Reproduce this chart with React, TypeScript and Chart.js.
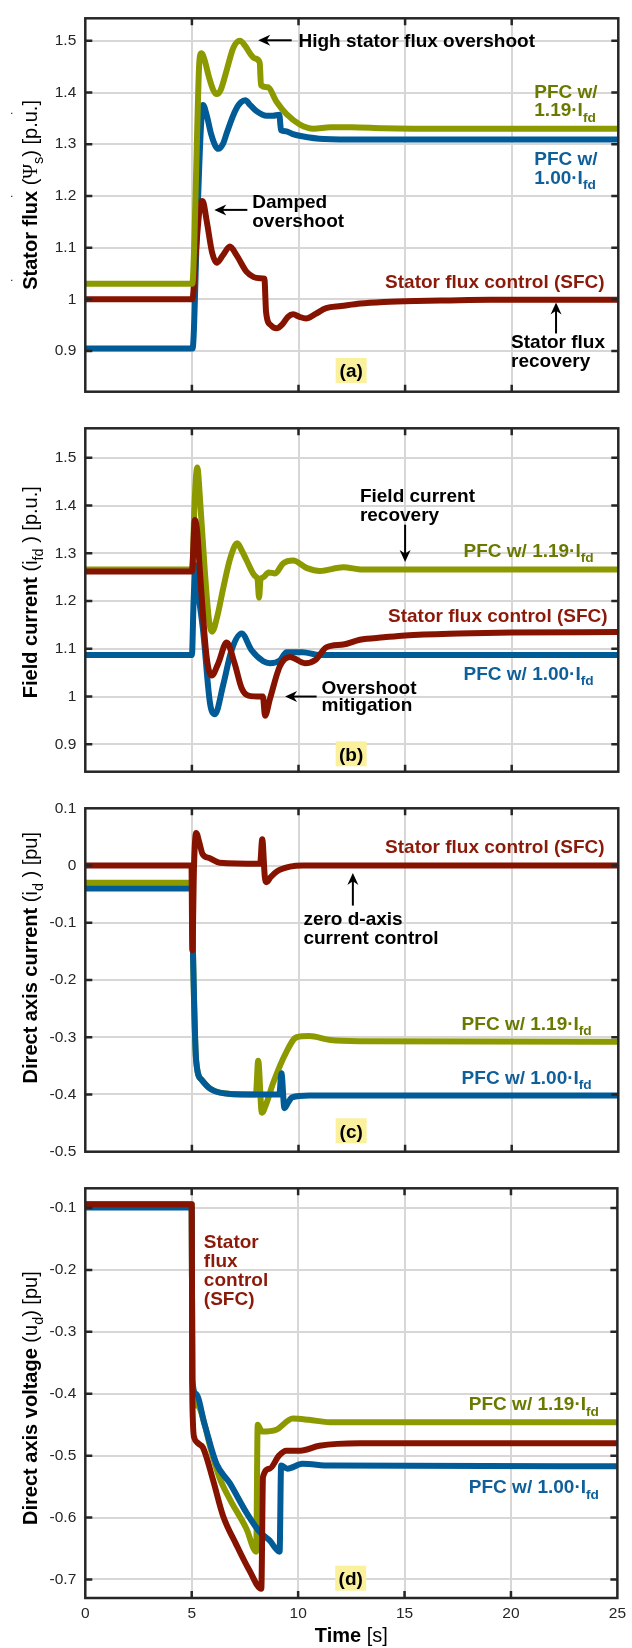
import React, { useEffect, useRef } from "react";
import { Chart, registerables } from "chart.js";
Chart.register(...registerables);

// ---------------- data ----------------
const xTicks = [0, 5, 10, 15, 20, 25];
const yTicksFlux = [0.9, 1, 1.1, 1.2, 1.3, 1.4, 1.5];
const yTicksField = [0.9, 1, 1.1, 1.2, 1.3, 1.4, 1.5];
const yTicksId = [-0.5, -0.4, -0.3, -0.2, -0.1, 0, 0.1];
const yTicksUd = [-0.7, -0.6, -0.5, -0.4, -0.3, -0.2, -0.1];

// (a) stator flux
const fluxT_sfc = [0, 5.02, 5.2, 5.4, 5.5, 5.7, 5.95, 6.16, 6.45, 6.78, 7.1, 7.57, 7.9, 8.19, 8.4, 8.48, 8.7, 8.97, 9.25, 9.5, 9.75, 10.05, 10.35, 10.8, 11.3, 12, 12.9, 14, 15.5, 17, 19, 25];
const fluxV_sfc = [1.0, 1.0, 1.1, 1.185, 1.19, 1.15, 1.09, 1.071, 1.085, 1.102, 1.085, 1.053, 1.043, 1.041, 1.04, 0.975, 0.95, 0.944, 0.952, 0.966, 0.971, 0.966, 0.963, 0.972, 0.983, 0.987, 0.992, 0.995, 0.997, 0.998, 0.999, 0.999];
const fluxT_119 = [0, 5.02, 5.12, 5.25, 5.35, 5.45, 5.6, 5.8, 6.0, 6.16, 6.35, 6.63, 6.94, 7.25, 7.5, 7.75, 7.95, 8.18, 8.24, 8.56, 8.97, 9.44, 10.07, 10.7, 11.5, 12.5, 14, 17, 25];
const fluxV_119 = [1.03, 1.03, 1.12, 1.33, 1.46, 1.476, 1.462, 1.43, 1.405, 1.397, 1.405, 1.443, 1.486, 1.5, 1.49, 1.474, 1.466, 1.458, 1.414, 1.41, 1.382, 1.358, 1.338, 1.33, 1.333, 1.333, 1.331, 1.33, 1.33];
const fluxT_100 = [0, 5.03, 5.25, 5.42, 5.52, 5.7, 5.9, 6.1, 6.24, 6.45, 6.63, 6.9, 7.1, 7.3, 7.5, 7.75, 8.03, 8.5, 8.8, 9.1, 9.18, 9.4, 9.7, 10.1, 11.2, 13, 25];
const fluxV_100 = [0.905, 0.905, 1.15, 1.33, 1.376, 1.355, 1.32, 1.297, 1.291, 1.3, 1.321, 1.352, 1.37, 1.381, 1.385, 1.375, 1.364, 1.355, 1.355, 1.357, 1.327, 1.325, 1.32, 1.316, 1.31, 1.309, 1.309];

// (b) field current
const fieldT_sfc = [0, 5.0, 5.14, 5.25, 5.37, 5.69, 5.93, 6.24, 6.63, 7.0, 7.33, 7.65, 8.27, 8.33, 8.43, 8.66, 9.13, 9.6, 10.3, 10.8, 11.3, 12.1, 12.88, 14, 15, 17.5, 20, 25];
const fieldV_sfc = [1.262, 1.262, 1.37, 1.345, 1.266, 1.083, 1.044, 1.07, 1.113, 1.07, 1.018, 1.002, 1.0, 1.0, 0.96, 0.995, 1.064, 1.083, 1.07, 1.077, 1.103, 1.109, 1.119, 1.124, 1.128, 1.132, 1.134, 1.135];
const fieldT_119 = [0, 5.02, 5.12, 5.25, 5.4, 5.6, 5.8, 5.95, 6.2, 6.47, 6.8, 7.13, 7.35, 7.57, 7.95, 8.08, 8.15, 8.22, 8.35, 8.6, 8.9, 9.28, 9.75, 10.4, 11.0, 12.1, 13, 25];
const fieldV_119 = [1.266, 1.266, 1.4, 1.48, 1.4, 1.266, 1.16, 1.136, 1.17, 1.227, 1.29, 1.321, 1.305, 1.285, 1.253, 1.245, 1.207, 1.245, 1.25, 1.26, 1.258, 1.279, 1.285, 1.269, 1.263, 1.271, 1.266, 1.266];
const fieldT_100 = [0, 5.0, 5.08, 5.17, 5.35, 5.53, 5.85, 6.08, 6.47, 6.86, 7.33, 7.8, 8.35, 8.66, 9.13, 9.44, 10.2, 11, 25];
const fieldV_100 = [1.087, 1.087, 1.2, 1.275, 1.2, 1.136, 0.986, 0.963, 1.025, 1.097, 1.132, 1.097, 1.074, 1.07, 1.076, 1.093, 1.093, 1.087, 1.087];

// (c) direct axis current
const idT_sfc = [0, 4.98, 5.02, 5.1, 5.2, 5.35, 5.5, 5.84, 6.3, 8.2, 8.3, 8.42, 8.5, 8.7, 9.0, 9.6, 10.2, 25];
const idV_sfc = [0, 0, -0.148, 0.0, 0.057, 0.04, 0.02, 0.0128, 0.005, 0.003, 0.046, -0.02, -0.029, -0.02, -0.01, -0.002, 0, 0];
const idT_119 = [0, 5.0, 5.05, 5.2, 5.45, 5.9, 6.8, 8.0, 8.11, 8.28, 8.5, 8.81, 9.44, 9.91, 10.5, 11.5, 13, 25];
const idV_119 = [-0.03, -0.03, -0.15, -0.341, -0.374, -0.391, -0.399, -0.4, -0.341, -0.432, -0.415, -0.38, -0.325, -0.3, -0.298, -0.305, -0.307, -0.308];
const idT_100 = [0, 5.0, 5.05, 5.2, 5.45, 5.9, 6.8, 9.1, 9.2, 9.34, 9.5, 9.7, 10.5, 25];
const idV_100 = [-0.04, -0.04, -0.15, -0.341, -0.374, -0.391, -0.399, -0.4, -0.363, -0.424, -0.415, -0.405, -0.402, -0.402];

// (d) direct axis voltage
const udT_sfc = [0, 5.0, 5.03, 5.12, 5.3, 5.53, 6.0, 6.47, 7.1, 7.72, 8.27, 8.35, 8.66, 9.1, 9.44, 10.1, 11, 12.9, 25];
const udV_sfc = [-0.094, -0.094, -0.41, -0.471, -0.48, -0.487, -0.539, -0.597, -0.644, -0.686, -0.715, -0.534, -0.521, -0.5, -0.492, -0.492, -0.484, -0.48, -0.48];
const udT_119 = [0, 5.0, 5.03, 5.3, 5.61, 5.9, 6.3, 6.8, 7.57, 8.03, 8.1, 8.3, 8.97, 9.75, 10.5, 11.5, 25];
const udV_119 = [-0.094, -0.094, -0.39, -0.42, -0.45, -0.49, -0.535, -0.571, -0.618, -0.655, -0.45, -0.461, -0.458, -0.44, -0.442, -0.446, -0.446];
const udT_100 = [0, 5.0, 5.03, 5.2, 5.61, 6.16, 6.78, 7.57, 8.19, 8.66, 9.13, 9.2, 9.5, 10.2, 11.5, 25];
const udV_100 = [-0.099, -0.099, -0.377, -0.4, -0.45, -0.513, -0.544, -0.592, -0.623, -0.637, -0.655, -0.516, -0.521, -0.513, -0.516, -0.517];

// ---------------- styles ----------------
const FONT = '"Liberation Sans", Arial, Helvetica, sans-serif';
const SERIF = '"Liberation Serif", "DejaVu Serif", serif';
const AXIS = "#262626";
const GRID = "#d9d6d6";
const L_GREEN = "#8c9a00";
const L_BLUE = "#005b96";
const L_RED = "#861300";
const T_GREEN = "#6a7a00";
const T_BLUE = "#0f5f9a";
const T_RED = "#8b1a0a";
const BLACK = "#000000";
const TAG_BG = "#fbf09c";

type Seg = { t: string; b?: boolean; sub?: boolean; serif?: boolean };
type Note = { segs: Seg[]; t: number; v: number; color: string };
type Arrow = { from: [number, number]; to: [number, number] };
type Series = { t: number[]; v: number[]; color: string; order: number };
type PanelCfg = {
  top: number; height: number; padTop: number; padBottom: number; xAxisH: number; showX: boolean;
  yMin: number; yMax: number; yTicks: number[]; series: Series[];
  title: Seg[]; titleV: number; notes: Note[]; arrows: Arrow[];
  tag: string; tagT: number; tagV: number; dots?: number[]; xTitle?: Seg[];
};

const bold = (t: string): Seg[] => [{ t, b: true }];
const pfc = (k: string): Seg[] => [{ t: `PFC w/ ${k}·I`, b: true }, { t: "fd", b: true, sub: true }];
const pfcShort = (k: string): Seg[] => [{ t: `${k}·I`, b: true }, { t: "fd", b: true, sub: true }];

const panels: PanelCfg[] = [
  {
    top: 0, height: 410, padTop: 5, padBottom: 10, xAxisH: 0, showX: false,
    yMin: 0.8214, yMax: 1.5435, yTicks: yTicksFlux,
    series: [
      { t: fluxT_119, v: fluxV_119, color: L_GREEN, order: 0 },
      { t: fluxT_sfc, v: fluxV_sfc, color: L_RED, order: 1 },
      { t: fluxT_100, v: fluxV_100, color: L_BLUE, order: 2 },
    ],
    title: [{ t: "Stator flux ", b: true }, { t: "(" }, { t: "Ψ", serif: true }, { t: "s", sub: true }, { t: ") [p.u.]" }],
    titleV: 1.202,
    notes: [
      { segs: bold("High stator flux overshoot"), t: 10.0, v: 1.501, color: BLACK },
      { segs: bold("PFC w/"), t: 21.06, v: 1.403, color: T_GREEN },
      { segs: pfcShort("1.19"), t: 21.06, v: 1.367, color: T_GREEN },
      { segs: bold("PFC w/"), t: 21.06, v: 1.272, color: T_BLUE },
      { segs: pfcShort("1.00"), t: 21.06, v: 1.236, color: T_BLUE },
      { segs: bold("Damped"), t: 7.83, v: 1.189, color: BLACK },
      { segs: bold("overshoot"), t: 7.83, v: 1.154, color: BLACK },
      { segs: bold("Stator flux control (SFC)"), t: 14.06, v: 1.035, color: T_RED },
      { segs: bold("Stator flux"), t: 19.97, v: 0.919, color: BLACK },
      { segs: bold("recovery"), t: 19.97, v: 0.882, color: BLACK },
    ],
    arrows: [
      { from: [9.68, 1.501], to: [8.11, 1.501] },
      { from: [7.6, 1.173], to: [6.05, 1.173] },
      { from: [22.08, 0.934], to: [22.08, 0.994] },
    ],
    tag: "(a)", tagT: 12.47, tagV: 0.8625,
    dots: [1.3607, 1.2, 1.0377],
  },
  {
    top: 410, height: 380, padTop: 5, padBottom: 6.7, xAxisH: 0, showX: false,
    yMin: 0.8426, yMax: 1.5619, yTicks: yTicksField,
    series: [
      { t: fieldT_sfc, v: fieldV_sfc, color: L_RED, order: 0 },
      { t: fieldT_100, v: fieldV_100, color: L_BLUE, order: 1 },
      { t: fieldT_119, v: fieldV_119, color: L_GREEN, order: 2 },
    ],
    title: [{ t: "Field current ", b: true }, { t: "(i" }, { t: "fd", sub: true }, { t: " ) [p.u.]" }],
    titleV: 1.2186,
    notes: [
      { segs: bold("Field current"), t: 12.88, v: 1.421, color: BLACK },
      { segs: bold("recovery"), t: 12.88, v: 1.383, color: BLACK },
      { segs: pfc("1.19"), t: 17.74, v: 1.307, color: T_GREEN },
      { segs: bold("Stator flux control (SFC)"), t: 14.2, v: 1.171, color: T_RED },
      { segs: pfc("1.00"), t: 17.74, v: 1.049, color: T_BLUE },
      { segs: bold("Overshoot"), t: 11.08, v: 1.02, color: BLACK },
      { segs: bold("mitigation"), t: 11.08, v: 0.984, color: BLACK },
    ],
    arrows: [
      { from: [15.0, 1.36], to: [15.0, 1.282] },
      { from: [10.85, 1.0], to: [9.37, 1.0] },
    ],
    tag: "(b)", tagT: 12.47, tagV: 0.88,
  },
  {
    top: 790, height: 380, padTop: 10, padBottom: 8, xAxisH: 0, showX: false,
    yMin: -0.5, yMax: 0.1, yTicks: yTicksId,
    series: [
      { t: idT_sfc, v: idV_sfc, color: L_RED, order: 0 },
      { t: idT_100, v: idV_100, color: L_BLUE, order: 1 },
      { t: idT_119, v: idV_119, color: L_GREEN, order: 2 },
    ],
    title: [{ t: "Direct axis current ", b: true }, { t: "(i" }, { t: "d", sub: true }, { t: " ) [pu]" }],
    titleV: -0.161,
    notes: [
      { segs: bold("Stator flux control (SFC)"), t: 14.06, v: 0.0337, color: T_RED },
      { segs: bold("zero d-axis"), t: 10.23, v: -0.092, color: BLACK },
      { segs: bold("current control"), t: 10.23, v: -0.126, color: BLACK },
      { segs: pfc("1.19"), t: 17.65, v: -0.275, color: T_GREEN },
      { segs: pfc("1.00"), t: 17.65, v: -0.369, color: T_BLUE },
    ],
    arrows: [{ from: [12.55, -0.07], to: [12.55, -0.013] }],
    tag: "(c)", tagT: 12.47, tagV: -0.4635,
  },
  {
    top: 1170, height: 478, padTop: 7, padBottom: 0, xAxisH: 50, showX: true,
    yMin: -0.7299, yMax: -0.0681, yTicks: yTicksUd,
    series: [
      { t: udT_sfc, v: udV_sfc, color: L_RED, order: 0 },
      { t: udT_100, v: udV_100, color: L_BLUE, order: 1 },
      { t: udT_119, v: udV_119, color: L_GREEN, order: 2 },
    ],
    title: [{ t: "Direct axis voltage ", b: true }, { t: "(u" }, { t: "d", sub: true }, { t: ") [pu]" }],
    titleV: -0.407,
    notes: [
      { segs: bold("Stator"), t: 5.57, v: -0.154, color: T_RED },
      { segs: bold("flux"), t: 5.57, v: -0.184, color: T_RED },
      { segs: bold("control"), t: 5.57, v: -0.215, color: T_RED },
      { segs: bold("(SFC)"), t: 5.57, v: -0.246, color: T_RED },
      { segs: pfc("1.19"), t: 18.02, v: -0.416, color: T_GREEN },
      { segs: pfc("1.00"), t: 18.02, v: -0.55, color: T_BLUE },
    ],
    arrows: [],
    tag: "(d)", tagT: 12.47, tagV: -0.6978,
    xTitle: [{ t: "Time", b: true }, { t: " [s]" }],
  },
];

// ---------------- drawing helpers ----------------
function segFont(s: Seg, size: number) {
  const sz = s.sub ? size * 0.72 : size;
  return `${s.b ? "bold " : ""}${sz}px ${s.serif ? SERIF : FONT}`;
}
function richWidth(ctx: CanvasRenderingContext2D, segs: Seg[], size: number) {
  let w = 0;
  for (const s of segs) { ctx.font = segFont(s, size); w += ctx.measureText(s.t).width; }
  return w;
}
function drawRich(ctx: CanvasRenderingContext2D, segs: Seg[], x: number, cy: number, size: number, color: string, align: "left" | "center") {
  const base = cy + 0.358 * size;
  let cx = align === "center" ? x - richWidth(ctx, segs, size) / 2 : x;
  ctx.fillStyle = color;
  ctx.textAlign = "left";
  ctx.textBaseline = "alphabetic";
  for (const s of segs) {
    ctx.font = segFont(s, size);
    ctx.fillText(s.t, cx, base + (s.sub ? size * 0.27 : 0));
    cx += ctx.measureText(s.t).width;
  }
}
function drawArrow(ctx: CanvasRenderingContext2D, x1: number, y1: number, x2: number, y2: number) {
  const dx = x2 - x1, dy = y2 - y1;
  const len = Math.hypot(dx, dy) || 1;
  const ux = dx / len, uy = dy / len;
  const nx = -uy, ny = ux;
  const L = 12, W = 5.5;
  ctx.strokeStyle = BLACK;
  ctx.lineWidth = 2;
  ctx.beginPath();
  ctx.moveTo(x1, y1);
  ctx.lineTo(x2 - ux * L * 0.6, y2 - uy * L * 0.6);
  ctx.stroke();
  ctx.fillStyle = BLACK;
  ctx.beginPath();
  ctx.moveTo(x2, y2);
  ctx.lineTo(x2 - ux * L + nx * W, y2 - uy * L + ny * W);
  ctx.lineTo(x2 - ux * L * 0.7, y2 - uy * L * 0.7);
  ctx.lineTo(x2 - ux * L - nx * W, y2 - uy * L - ny * W);
  ctx.closePath();
  ctx.fill();
}

const fmt = (v: number) => String(Math.round(v * 10) / 10);

function decor(p: PanelCfg) {
  return {
    id: "decor",
    afterDraw(chart: any) {
      const ctx: CanvasRenderingContext2D = chart.ctx;
      const { left, right, top, bottom } = chart.chartArea;
      const xs = chart.scales.x, ys = chart.scales.y;
      ctx.save();
      // box + inward ticks
      ctx.strokeStyle = AXIS;
      ctx.lineWidth = 2.5;
      ctx.strokeRect(left, top, right - left, bottom - top);
      ctx.beginPath();
      for (const v of p.yTicks) {
        const y = ys.getPixelForValue(v);
        if (y < top + 2 || y > bottom - 2) continue;
        ctx.moveTo(left, y); ctx.lineTo(left + 7, y);
        ctx.moveTo(right, y); ctx.lineTo(right - 7, y);
      }
      for (const v of xTicks) {
        const x = xs.getPixelForValue(v);
        if (x < left + 2 || x > right - 2) continue;
        ctx.moveTo(x, top); ctx.lineTo(x, top + 7);
        ctx.moveTo(x, bottom); ctx.lineTo(x, bottom - 7);
      }
      ctx.stroke();
      // arrows
      for (const a of p.arrows) {
        drawArrow(ctx, xs.getPixelForValue(a.from[0]), ys.getPixelForValue(a.from[1]), xs.getPixelForValue(a.to[0]), ys.getPixelForValue(a.to[1]));
      }
      // notes
      for (const n of p.notes) {
        drawRich(ctx, n.segs, xs.getPixelForValue(n.t), ys.getPixelForValue(n.v), 19, n.color, "left");
      }
      // panel tag
      const tx = xs.getPixelForValue(p.tagT), ty = ys.getPixelForValue(p.tagV);
      ctx.fillStyle = TAG_BG;
      ctx.fillRect(tx - 15.5, ty - 12.5, 31, 25);
      drawRich(ctx, bold(p.tag), tx, ty, 19, BLACK, "center");
      // y title
      ctx.save();
      ctx.translate(30, ys.getPixelForValue(p.titleV));
      ctx.rotate(-Math.PI / 2);
      drawRich(ctx, p.title, 0, 0, 20, BLACK, "center");
      ctx.restore();
      // stray dots
      if (p.dots) {
        ctx.fillStyle = BLACK;
        ctx.font = `11px ${FONT}`;
        ctx.textAlign = "center";
        ctx.textBaseline = "middle";
        for (const d of p.dots) ctx.fillText(".", 11.7, ys.getPixelForValue(d) - 2);
      }
      // x title
      if (p.xTitle) {
        drawRich(ctx, p.xTitle, xs.getPixelForValue(12.5), bottom + 37, 20, BLACK, "center");
      }
      ctx.restore();
    },
  };
}

function buildConfig(p: PanelCfg): any {
  return {
    type: "line",
    data: {
      datasets: p.series.map((s) => ({
        data: s.t.map((t, i) => ({ x: t, y: s.v[i] })),
        borderColor: s.color,
        backgroundColor: s.color,
        borderWidth: 6,
        pointRadius: 0,
        fill: false,
        cubicInterpolationMode: "monotone",
        borderJoinStyle: "round",
        borderCapStyle: "round",
        order: s.order,
      })),
    },
    options: {
      animation: false,
      responsive: false,
      devicePixelRatio: 1,
      events: [],
      layout: { padding: { top: p.padTop, bottom: p.padBottom, left: 0, right: 13.7 } },
      plugins: { legend: { display: false }, tooltip: { enabled: false } },
      scales: {
        x: {
          type: "linear", min: 0, max: 25,
          afterBuildTicks: (s: any) => { s.ticks = xTicks.map((v) => ({ value: v })); },
          afterFit: (s: any) => { s.height = p.xAxisH; },
          grid: { color: GRID, lineWidth: 2, drawTicks: false },
          border: { display: false },
          ticks: { display: p.showX, font: { family: FONT, size: 15.5 }, color: AXIS, padding: 6, maxRotation: 0, callback: (v: any) => String(v) },
        },
        y: {
          type: "linear", min: p.yMin, max: p.yMax,
          afterBuildTicks: (s: any) => { s.ticks = p.yTicks.map((v) => ({ value: v })); },
          afterFit: (s: any) => { s.width = 85.3; },
          grid: { color: GRID, lineWidth: 2, drawTicks: false },
          border: { display: false },
          ticks: { font: { family: FONT, size: 15.5 }, color: AXIS, padding: 9, callback: (v: any) => fmt(Number(v)) },
        },
      },
    },
    plugins: [decor(p)],
  };
}

function Panel({ cfg }: { cfg: PanelCfg }) {
  const ref = useRef<HTMLCanvasElement>(null);
  useEffect(() => {
    const chart = new Chart(ref.current as HTMLCanvasElement, buildConfig(cfg));
    return () => chart.destroy();
  }, [cfg]);
  return (
    <canvas
      ref={ref}
      width={632}
      height={cfg.height}
      style={{ position: "absolute", left: 0, top: cfg.top, width: 632, height: cfg.height }}
    />
  );
}

export default function App() {
  return (
    <div style={{ position: "relative", width: 632, height: 1648, background: "#ffffff" }}>
      <style>{`body{margin:0;background:#fff}`}</style>
      {panels.map((p, i) => (
        <Panel key={i} cfg={p} />
      ))}
    </div>
  );
}
